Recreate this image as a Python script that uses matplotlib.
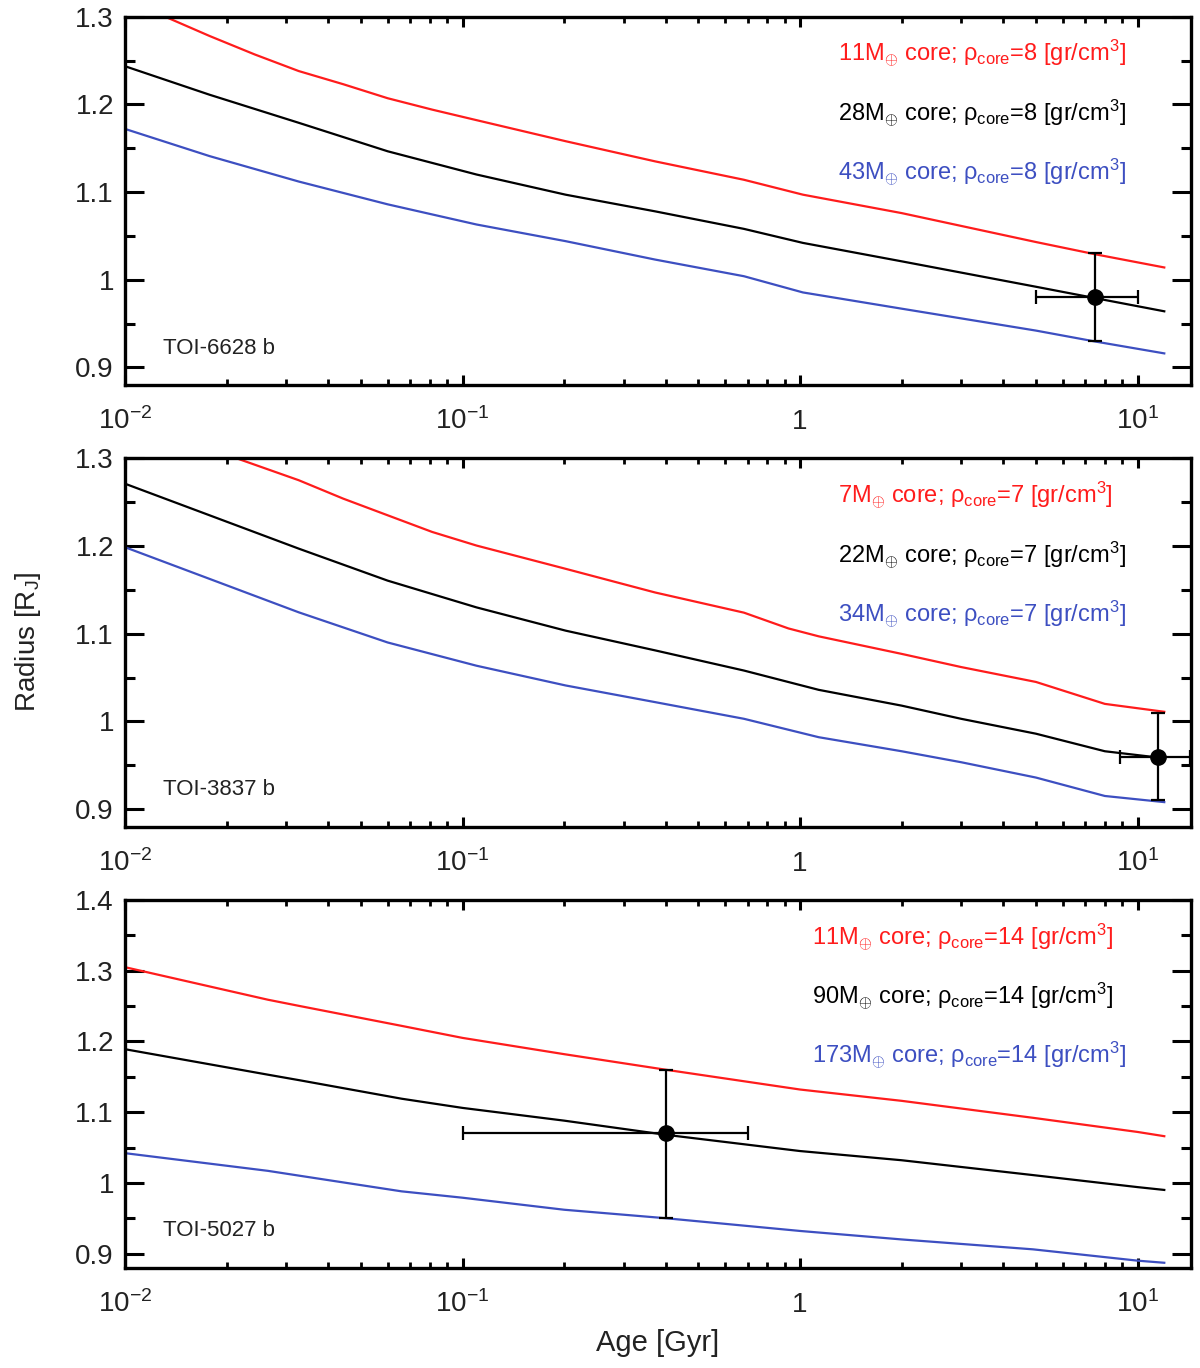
import matplotlib
matplotlib.use("Agg")
import matplotlib.pyplot as plt
from matplotlib.ticker import FixedLocator, NullFormatter

plt.rcParams['font.family'] = ['Liberation Sans', 'DejaVu Sans']
plt.rcParams['mathtext.fontset'] = 'custom'
plt.rcParams['mathtext.rm'] = 'Liberation Sans'
plt.rcParams['mathtext.it'] = 'Liberation Sans:italic'
plt.rcParams['mathtext.bf'] = 'Liberation Sans:bold'

RED = '#ff1c1c'
BLUE = '#3d4fc1'
BLACK = '#000000'

# ---------------- Panel 1: TOI-6628 b ----------------
p1_red_age = [0.01315, 0.0178, 0.0242, 0.0327, 0.0443, 0.060, 0.0813, 0.110, 0.202, 0.372, 0.682,
              1.02, 2.0, 5.0, 7.5, 12.0]
p1_red_rad = [1.300, 1.278, 1.257, 1.238, 1.223, 1.207, 1.194, 1.182, 1.158, 1.135, 1.114,
              1.097, 1.076, 1.043, 1.029, 1.014]
p1_blk_age = [0.01, 0.0178, 0.0327, 0.060, 0.110, 0.202, 0.372, 0.682, 1.02, 2.0, 5.0, 7.5, 12.0]
p1_blk_rad = [1.2435, 1.211, 1.179, 1.1465, 1.120, 1.097, 1.078, 1.058, 1.042, 1.021, 0.992, 0.979, 0.964]
p1_blu_age = [0.01, 0.0178, 0.0327, 0.060, 0.110, 0.202, 0.372, 0.682, 1.02, 2.0, 5.0, 7.5, 12.0]
p1_blu_rad = [1.172, 1.141, 1.112, 1.086, 1.063, 1.044, 1.023, 1.004, 0.9855, 0.967, 0.942, 0.9295, 0.916]
p1_obs_age, p1_obs_age_lo, p1_obs_age_hi = 7.5, 5.0, 10.0
p1_obs_rad, p1_obs_rad_lo, p1_obs_rad_hi = 0.98, 0.93, 1.03
p1_labels = [r"11M$_{\oplus}$ core; ρ$_{\mathrm{core}}$=8 [gr/cm$^{3}$]",
             r"28M$_{\oplus}$ core; ρ$_{\mathrm{core}}$=8 [gr/cm$^{3}$]",
             r"43M$_{\oplus}$ core; ρ$_{\mathrm{core}}$=8 [gr/cm$^{3}$]"]
p1_name = "TOI-6628 b"
p1_yticks = [0.9, 1.0, 1.1, 1.2, 1.3]
p1_ytick_labels = ["0.9", "1", "1.1", "1.2", "1.3"]

# ---------------- Panel 2: TOI-3837 b ----------------
p2_red_age = [0.0214, 0.0327, 0.0443, 0.060, 0.0813, 0.110, 0.202, 0.372, 0.682, 0.924, 1.136,
              2.0, 3.0, 5.0, 8.0, 12.0]
p2_red_rad = [1.300, 1.275, 1.254, 1.235, 1.216, 1.2005, 1.174, 1.147, 1.124, 1.106, 1.097,
              1.077, 1.062, 1.045, 1.020, 1.011]
p2_blk_age = [0.01, 0.0178, 0.0327, 0.060, 0.110, 0.202, 0.372, 0.682, 1.136, 2.0, 3.0, 5.0, 8.0, 12.0]
p2_blk_rad = [1.271, 1.235, 1.197, 1.1605, 1.130, 1.1035, 1.081, 1.058, 1.036, 1.018, 1.003, 0.986, 0.966, 0.958]
p2_blu_age = [0.01, 0.0178, 0.0327, 0.060, 0.110, 0.202, 0.372, 0.682, 1.136, 2.0, 3.0, 5.0, 8.0, 12.0]
p2_blu_rad = [1.1986, 1.1625, 1.1244, 1.090, 1.0635, 1.041, 1.022, 1.003, 0.982, 0.966, 0.9535, 0.936, 0.915, 0.908]
p2_obs_age, p2_obs_age_lo, p2_obs_age_hi = 11.5, 8.9, 14.3
p2_obs_rad, p2_obs_rad_lo, p2_obs_rad_hi = 0.96, 0.91, 1.01
p2_labels = [r"7M$_{\oplus}$ core; ρ$_{\mathrm{core}}$=7 [gr/cm$^{3}$]",
             r"22M$_{\oplus}$ core; ρ$_{\mathrm{core}}$=7 [gr/cm$^{3}$]",
             r"34M$_{\oplus}$ core; ρ$_{\mathrm{core}}$=7 [gr/cm$^{3}$]"]
p2_name = "TOI-3837 b"
p2_yticks = [0.9, 1.0, 1.1, 1.2, 1.3]
p2_ytick_labels = ["0.9", "1", "1.1", "1.2", "1.3"]

# ---------------- Panel 3: TOI-5027 b ----------------
p3_red_age = [0.01, 0.0265, 0.033, 0.066, 0.1, 0.2, 0.4, 1.0, 2.0, 4.9, 10.0, 12.0]
p3_red_rad = [1.305, 1.259, 1.250, 1.222, 1.205, 1.182, 1.160, 1.132, 1.116, 1.092, 1.072, 1.066]
p3_blk_age = [0.01, 0.0265, 0.033, 0.066, 0.1, 0.2, 0.4, 1.0, 2.0, 4.9, 10.0, 12.0]
p3_blk_rad = [1.189, 1.153, 1.145, 1.119, 1.106, 1.088, 1.068, 1.045, 1.032, 1.011, 0.994, 0.990]
p3_blu_age = [0.01, 0.0265, 0.033, 0.066, 0.1, 0.2, 0.4, 1.0, 2.0, 4.9, 10.0, 12.0]
p3_blu_rad = [1.042, 1.017, 1.010, 0.988, 0.979, 0.962, 0.950, 0.932, 0.920, 0.906, 0.890, 0.887]
p3_obs_age, p3_obs_age_lo, p3_obs_age_hi = 0.40, 0.10, 0.70
p3_obs_rad, p3_obs_rad_lo, p3_obs_rad_hi = 1.07, 0.95, 1.16
p3_labels = [r"11M$_{\oplus}$ core; ρ$_{\mathrm{core}}$=14 [gr/cm$^{3}$]",
             r"90M$_{\oplus}$ core; ρ$_{\mathrm{core}}$=14 [gr/cm$^{3}$]",
             r"173M$_{\oplus}$ core; ρ$_{\mathrm{core}}$=14 [gr/cm$^{3}$]"]
p3_name = "TOI-5027 b"
p3_yticks = [0.9, 1.0, 1.1, 1.2, 1.3, 1.4]
p3_ytick_labels = ["0.9", "1", "1.1", "1.2", "1.3", "1.4"]

xticks = [0.01, 0.1, 1.0, 10.0]
xtick_labels = [r"10$^{-2}$", r"10$^{-1}$", "1", r"10$^{1}$"]

panels = [
    dict(red=(p1_red_age, p1_red_rad), blk=(p1_blk_age, p1_blk_rad), blu=(p1_blu_age, p1_blu_rad),
         obs=(p1_obs_age, p1_obs_age_lo, p1_obs_age_hi, p1_obs_rad, p1_obs_rad_lo, p1_obs_rad_hi),
         labels=p1_labels, name=p1_name, ylim=(0.88, 1.30), yticks=p1_yticks, ytl=p1_ytick_labels,
         pos=[0.1042, 0.7186, 0.8883, 0.2692], lab_x=0.669),
    dict(red=(p2_red_age, p2_red_rad), blk=(p2_blk_age, p2_blk_rad), blu=(p2_blu_age, p2_blu_rad),
         obs=(p2_obs_age, p2_obs_age_lo, p2_obs_age_hi, p2_obs_rad, p2_obs_rad_lo, p2_obs_rad_hi),
         labels=p2_labels, name=p2_name, ylim=(0.88, 1.30), yticks=p2_yticks, ytl=p2_ytick_labels,
         pos=[0.1042, 0.3957, 0.8883, 0.2693], lab_x=0.669),
    dict(red=(p3_red_age, p3_red_rad), blk=(p3_blk_age, p3_blk_rad), blu=(p3_blu_age, p3_blu_rad),
         obs=(p3_obs_age, p3_obs_age_lo, p3_obs_age_hi, p3_obs_rad, p3_obs_rad_lo, p3_obs_rad_hi),
         labels=p3_labels, name=p3_name, ylim=(0.88, 1.40), yticks=p3_yticks, ytl=p3_ytick_labels,
         pos=[0.1042, 0.0733, 0.8883, 0.2688], lab_x=0.644),
]

fig = plt.figure(figsize=(12, 13.68), dpi=100)

minor_x = [m * 10.0 ** e for e in range(-2, 2) for m in range(2, 10)]

for p in panels:
    ax = fig.add_axes(p['pos'])
    ax.set_xscale('log')
    ax.set_xlim(0.01, 14.4)
    ax.set_ylim(*p['ylim'])
    ax.plot(*p['red'], color=RED, lw=1.6)
    ax.plot(*p['blk'], color=BLACK, lw=1.6)
    ax.plot(*p['blu'], color=BLUE, lw=1.6)
    a, alo, ahi, r, rlo, rhi = p['obs']
    ax.errorbar([a], [r], xerr=[[a - alo], [ahi - a]], yerr=[[r - rlo], [rhi - r]],
                fmt='o', color='black', ms=11, elinewidth=1.6, capsize=5, capthick=1.6, zorder=5)

    # ticks
    ax.xaxis.set_major_locator(FixedLocator(xticks))
    ax.xaxis.set_minor_locator(FixedLocator(minor_x))
    ax.xaxis.set_minor_formatter(NullFormatter())
    ax.set_xticklabels(xtick_labels)
    ax.yaxis.set_major_locator(FixedLocator(p['yticks']))
    ymin, ymax = p['ylim']
    yminor = [v + 0.05 for v in p['yticks'] if ymin <= v + 0.05 <= ymax]
    ax.yaxis.set_minor_locator(FixedLocator(yminor))
    ax.yaxis.set_minor_formatter(NullFormatter())
    ax.set_yticklabels(p['ytl'])

    ax.tick_params(axis='both', which='both', direction='in', top=True, right=True, color='black')
    ax.tick_params(axis='y', which='major', length=14, width=2.2, labelsize=20, pad=8, labelcolor='#222222')
    ax.tick_params(axis='y', which='minor', length=7, width=2.2)
    ax.tick_params(axis='x', which='major', length=7, width=2.2, labelsize=20, pad=32, labelcolor='#222222')
    ax.tick_params(axis='x', which='minor', length=4, width=2.0)
    for lab in ax.get_xticklabels():
        lab.set_verticalalignment('baseline')
    for s in ax.spines.values():
        s.set_linewidth(2.4)

    # annotations
    cols = [RED, BLACK, BLUE]
    ys = [0.878, 0.716, 0.556]
    for txt, c, yy in zip(p['labels'], cols, ys):
        ax.text(p['lab_x'], yy, txt, transform=ax.transAxes, color=c, fontsize=17,
                ha='left', va='baseline')
    ax.text(0.036, 0.10, p['name'], transform=ax.transAxes, fontsize=16, color='#222222',
            ha='left', va='center')

fig.text(0.0235, 0.5307, r"Radius [R$_{\mathrm{J}}$]", rotation=90, fontsize=20,
         ha='center', va='center', color='#222222')
fig.text(0.548, 0.0183, "Age [Gyr]", fontsize=21, ha='center', va='center', color='#222222')

fig.savefig("out.png", dpi=100)
